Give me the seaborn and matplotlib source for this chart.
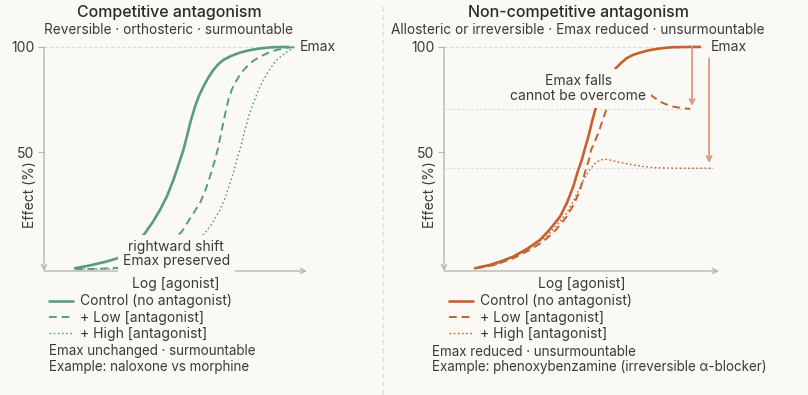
import matplotlib
matplotlib.use("Agg")
import matplotlib.pyplot as plt
import seaborn as sns
import pandas as pd

# kolory
BG = "#faf9f6"
GREEN = "#5a9e78"
ORANGE = "#c4622d"
ARROW_C = "#d99a7e"
AXIS_C = "#b8b6b2"
GRID_C = "#dcdad6"
TEXT_C = "#3a3a3a"

# --- dane: lewy panel (competitive) ---
comp_ctrl_x = [1.18, 1.75, 2.32, 2.81, 3.35, 3.84, 4.14, 4.41, 4.68, 4.92, 5.10, 5.30, 5.43, 5.57,
               5.74, 5.89, 6.06, 6.24, 6.44, 6.62, 6.82, 7.11, 7.45, 7.76, 8.09, 8.40, 8.72, 9.29]
comp_ctrl_y = [-4.88, -3.55, -1.90, -0.14, 4.74, 11.71, 17.06, 22.75, 29.38, 36.97, 43.60, 51.18, 57.49, 64.45,
               71.71, 76.78, 81.18, 85.31, 89.10, 91.71, 93.84, 95.73, 97.30, 98.29, 99.05, 99.57, 99.86, 100.0]
comp_low_x = [1.18, 1.94, 2.81, 3.46, 4.03, 4.64, 5.24, 5.59, 5.93, 6.14, 6.31, 6.50, 6.60, 6.76, 6.88,
              7.01, 7.15, 7.33, 7.51, 7.71, 7.95, 8.21, 8.52, 8.85, 9.20, 9.54]
comp_low_y = [-5.31, -5.21, -4.74, -2.84, 0.47, 5.69, 12.46, 19.43, 25.92, 32.23, 38.53, 46.45, 51.18, 60.66, 67.77,
              74.88, 80.09, 84.36, 87.91, 90.66, 93.36, 95.40, 97.16, 98.58, 99.53, 100.0]
comp_high_x = [1.18, 2.51, 3.65, 4.60, 5.36, 6.12, 6.43, 6.69, 6.90, 7.07, 7.21, 7.33, 7.45, 7.64, 7.79,
               7.96, 8.14, 8.34, 8.59, 8.85, 9.20, 9.54]
comp_high_y = [-5.31, -5.21, -4.27, -1.90, 2.37, 11.71, 17.06, 22.75, 28.91, 35.40, 40.76, 46.45, 51.18, 60.66, 67.30,
               73.32, 79.15, 84.36, 89.57, 93.84, 97.39, 100.0]

# --- dane: prawy panel (non-competitive) ---
nonc_ctrl_x = [1.13, 1.67, 2.07, 2.52, 3.02, 3.49, 3.85, 4.22, 4.47, 4.70, 4.87, 5.01, 5.11, 5.25, 5.38,
               5.53, 5.71, 5.89, 6.07, 6.25, 6.44, 6.64, 6.87, 7.13, 7.42, 7.73, 8.04, 8.34, 8.95, 9.31]
nonc_ctrl_y = [-4.88, -3.32, -1.66, 0.62, 4.27, 8.53, 13.51, 19.57, 26.07, 33.79, 41.23, 46.45, 51.18, 57.49, 64.45,
               71.71, 78.67, 83.41, 87.20, 89.91, 92.42, 94.64, 96.21, 97.30, 98.34, 99.05, 99.57, 99.86, 100.0, 100.0]
nonc_low_x = [1.13, 1.85, 2.52, 3.05, 3.61, 4.07, 4.46, 4.73, 4.95, 5.13, 5.27, 5.35, 5.61, 5.76, 5.92,
              6.11, 6.40, 6.69, 6.98, 7.20, 7.43, 7.64, 7.85, 8.09, 8.34, 8.62, 8.95]
nonc_low_y = [-4.98, -3.32, -0.14, 3.32, 7.73, 13.27, 19.57, 25.59, 32.23, 40.76, 46.45, 51.18, 59.10, 64.93, 70.95,
              75.83, 78.91, 80.09, 80.09, 79.15, 78.06, 76.07, 74.08, 72.75, 71.71, 71.09, 70.62]
nonc_high_x = [1.13, 1.85, 2.52, 3.13, 3.73, 4.11, 4.46, 4.73, 4.95, 5.20, 5.43, 5.67, 5.92, 6.28, 6.58,
               6.88, 7.24, 7.61, 8.34, 9.79]
nonc_high_y = [-4.98, -3.32, 0.62, 4.74, 10.09, 15.64, 21.18, 27.49, 33.79, 39.81, 44.08, 46.45, 46.78, 45.64, 44.79,
               44.08, 43.36, 42.80, 42.51, 42.51]

reduced_emax = [70.5, 42.5]
y_ticks = [50, 100]
legend_labels = ["Control (no antagonist)", "+ Low [antagonist]", "+ High [antagonist]"]

W, H = 808, 395
YMIN, YMAX = -6.2, 104
FS = 10

sns.set_theme(style="white")
plt.rcParams["font.family"] = ["Inter", "DejaVu Sans"]
plt.rcParams["text.color"] = TEXT_C

fig = plt.figure(figsize=(W / 100, H / 100), dpi=100, facecolor=BG)


def px_rect(x0, x1, y_bot, y_top):
    return [x0 / W, (H - y_bot) / H, (x1 - x0) / W, (y_bot - y_top) / H]


ax1 = fig.add_axes(px_rect(44, 307, 271, 38.5))
ax2 = fig.add_axes(px_rect(444, 719, 271, 38.5))

styles = [
    dict(linestyle="-", linewidth=1.9),
    dict(linestyle=(0, (4, 2.5)), linewidth=1.4),
    dict(linestyle=(0, (1.2, 1.8)), linewidth=1.0),
]


def draw_panel(ax, curves, color, grid_end):
    ax.set_facecolor(BG)
    for (x, y), st, lab in zip(curves, styles, legend_labels):
        df = pd.DataFrame({"x": x, "y": y})
        sns.lineplot(data=df, x="x", y="y", ax=ax, color=color, sort=False,
                     estimator=None, label=lab, zorder=3, **st)
    ax.set_xlim(0, 10)
    ax.set_ylim(YMIN, YMAX)
    for s in ax.spines.values():
        s.set_visible(False)
    ax.set_xticks([])
    ax.set_yticks(y_ticks)
    ax.tick_params(axis="y", length=4, width=0.8, color=AXIS_C, labelsize=FS,
                   labelcolor=TEXT_C, pad=3, left=True)
    # osie ze strzałkami
    arrow = dict(arrowstyle="->", color=AXIS_C, lw=1.0, shrinkA=0, shrinkB=0,
                 mutation_scale=9)
    ax.annotate("", xy=(0, YMIN), xytext=(0, 100), arrowprops=arrow, annotation_clip=False)
    ax.annotate("", xy=(10, YMIN), xytext=(0, YMIN), arrowprops=arrow, annotation_clip=False)
    ax.hlines(100, 0, grid_end, colors=GRID_C, linestyles=(0, (3, 2)), lw=0.8, zorder=1)
    ax.set_xlabel("Log [agonist]", fontsize=FS, color=TEXT_C, labelpad=4)
    ax.set_ylabel("Effect (%)", fontsize=FS, color=TEXT_C)
    ax.yaxis.set_label_coords(-0.027, 0.327)
    if ax.get_legend() is not None:
        ax.get_legend().remove()


draw_panel(ax1, [(comp_ctrl_x, comp_ctrl_y), (comp_low_x, comp_low_y), (comp_high_x, comp_high_y)],
           GREEN, comp_ctrl_x[-1])
draw_panel(ax2, [(nonc_ctrl_x, nonc_ctrl_y), (nonc_low_x, nonc_low_y), (nonc_high_x, nonc_high_y)],
           ORANGE, nonc_low_x[-1])

# linie zredukowanego Emax
ax2.hlines(reduced_emax[0], 0, nonc_low_x[-1], colors=GRID_C, linestyles=(0, (2, 2)), lw=0.8, zorder=1)
ax2.hlines(reduced_emax[1], 0, nonc_high_x[-1], colors=GRID_C, linestyles=(0, (2, 2)), lw=0.8, zorder=1)

# strzałki spadku Emax
arr2 = dict(arrowstyle="->", color=ARROW_C, lw=1.3, shrinkA=0, shrinkB=0, mutation_scale=9)
ax2.annotate("", xy=(9.02, reduced_emax[0] + 1.5), xytext=(9.02, 100), arrowprops=arr2)
ax2.annotate("", xy=(9.64, reduced_emax[1] + 2.5), xytext=(9.64, 94.5), arrowprops=arr2)

# etykiety Emax
ax1.text(9.73, 100, "Emax", fontsize=FS, color=TEXT_C, va="center", ha="left")
ax2.text(9.71, 100, "Emax", fontsize=FS, color=TEXT_C, va="center", ha="left")

# adnotacje z tłem zasłaniającym krzywe
box = dict(boxstyle="square,pad=0.35", facecolor=BG, edgecolor="none")
ax1.text(5.03, 1.9, "rightward shift\nEmax preserved", fontsize=FS, color=TEXT_C,
         ha="center", va="center", linespacing=1.05, bbox=box, zorder=5)
ax2.text(4.88, 80.3, "Emax falls\ncannot be overcome", fontsize=FS, color=TEXT_C,
         ha="center", va="center", linespacing=1.05, bbox=box, zorder=5)

# tytuły
fig.text(169 / W, 1 - 13 / H, "Competitive antagonism", fontsize=11.5, color="#2a2a2a",
         ha="center", va="center", fontweight="medium")
fig.text(169 / W, 1 - 29.5 / H, "Reversible · orthosteric · surmountable", fontsize=9.8,
         color=TEXT_C, ha="center", va="center")
fig.text(578 / W, 1 - 13 / H, "Non-competitive antagonism", fontsize=11.5, color="#2a2a2a",
         ha="center", va="center", fontweight="medium")
fig.text(578 / W, 1 - 29.5 / H, "Allosteric or irreversible · Emax reduced · unsurmountable",
         fontsize=9.8, color=TEXT_C, ha="center", va="center")

# legendy
for ax, x0 in [(ax1, 49), (ax2, 449)]:
    fig.legend(handles=ax.get_lines()[:3], labels=legend_labels, loc="upper left",
               bbox_to_anchor=(x0 / W, 1 - 294.5 / H), frameon=False, fontsize=FS,
               handlelength=1.75, handletextpad=0.45, labelspacing=0.17, borderpad=0,
               borderaxespad=0)

# notatki
notes = {
    49: ["Emax unchanged · surmountable", "Example: naloxone vs morphine"],
    432: ["Emax reduced · unsurmountable", "Example: phenoxybenzamine (irreversible α-blocker)"],
}
for x0, lines in notes.items():
    for i, t in enumerate(lines):
        fig.text(x0 / W, 1 - (351.5 + 16 * i) / H, t, fontsize=9.65, color=TEXT_C,
                 ha="left", va="center")

# pionowy separator
fig.add_artist(plt.Line2D([383 / W, 383 / W], [0, 1 - 6 / H], transform=fig.transFigure,
                          color="#e4e2de", lw=1.2, linestyle=(0, (3, 2))))

fig.savefig("out.png", dpi=100, facecolor=BG)
